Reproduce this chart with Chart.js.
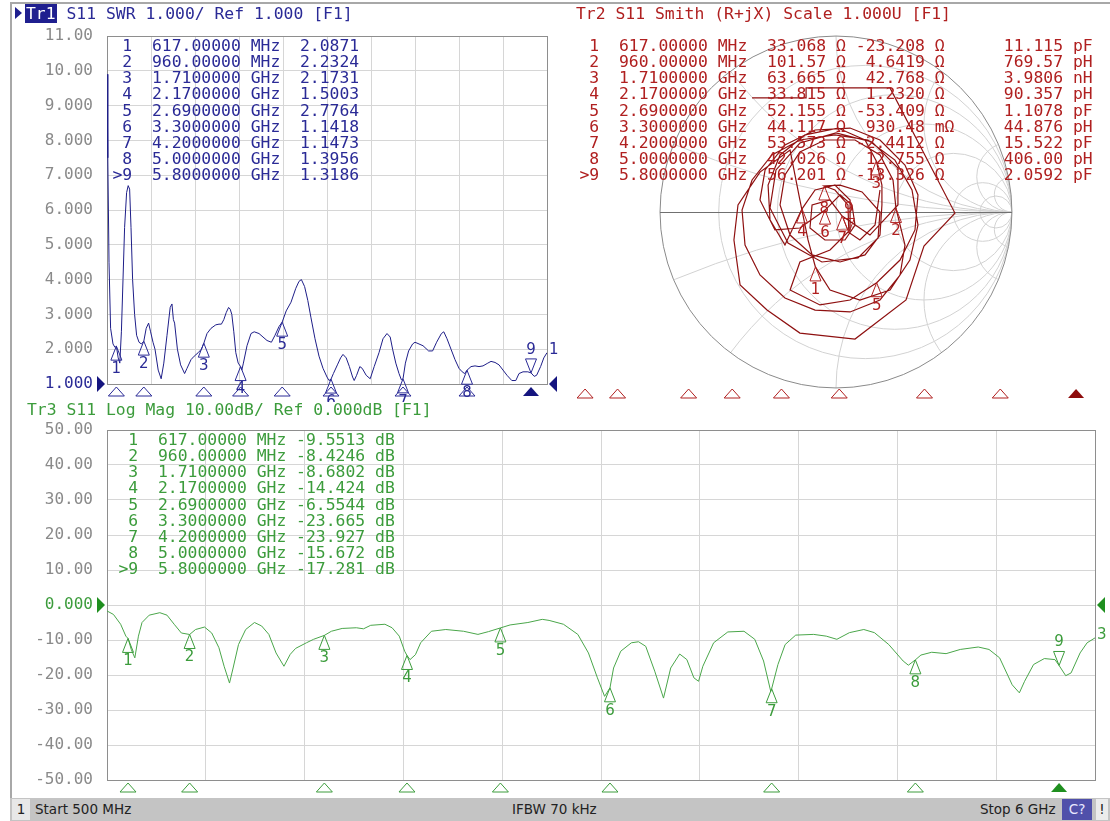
<!DOCTYPE html>
<html>
<head>
<meta charset="utf-8">
<script src="https://cdn.jsdelivr.net/npm/chart.js@4.4.1/dist/chart.umd.min.js"></script>
<style>
  body { margin: 0; width: 1110px; height: 821px; background: #fff; position: relative; overflow: hidden; }
  canvas { position: absolute; }
  .mono { position: absolute; white-space: pre; font-family: "DejaVu Sans Mono", monospace; font-size: 16.4px; }
  .hdr { line-height: 18px; }
  .tbl { line-height: 16.15px; }
  .edge { position: absolute; background: #a8a8a8; }
  #status { position: absolute; left: 10px; top: 798px; width: 1100px; height: 23px; background: #c4c4c4;
            font-family: "DejaVu Sans", sans-serif; font-size: 13.5px; color: #222; line-height: 23px; }
  #status span { position: absolute; top: 0; }
  .box { text-align: center; top: 1px !important; height: 21px; line-height: 21px; }
</style>
</head>
<body>
<div class="edge" style="left:10px;top:2px;width:1100px;height:2px"></div>
<div class="edge" style="left:10px;top:2px;width:2px;height:796px"></div>

<canvas id="swr" width="560" height="380" style="left:10px;top:22px"></canvas>
<canvas id="smith" width="550" height="372" style="left:560px;top:30px"></canvas>
<canvas id="logmag" width="1100" height="380" style="left:10px;top:418px"></canvas>

<div class="mono hdr" style="left:15px;top:5px;color:#2a2a96"><span style="display:inline-block;width:0;height:0;border-top:6px solid transparent;border-bottom:6px solid transparent;border-left:7px solid #1f1f8f;margin-right:3px"></span><span style="background:#1f1f8f;color:#fff;padding:0 1px">Tr1</span> S11 SWR 1.000/ Ref 1.000 [F1]</div>
<div class="mono hdr" style="left:576px;top:5px;color:#b02020">Tr2 S11 Smith (R+jX) Scale 1.000U [F1]</div>
<div class="mono hdr" style="left:27px;top:401px;color:#3c9c3c">Tr3 S11 Log Mag 10.00dB/ Ref 0.000dB [F1]</div>

<div id="swrTable" class="mono tbl" style="left:112.5px;top:38px;color:#2a2a96"></div>
<div id="smithTable" class="mono tbl" style="left:579.5px;top:38px;color:#b02020"></div>
<div id="logTable" class="mono tbl" style="left:118.5px;top:432px;color:#3c9c3c"></div>

<div id="status">
  <span class="box" style="left:2px;width:18px;background:#e8e8e8">1</span>
  <span style="left:25px">Start 500 MHz</span>
  <span style="left:502px">IFBW 70 kHz</span>
  <span style="left:970px">Stop 6 GHz</span>
  <span class="box" style="left:1052px;width:30px;background:#5050aa;color:#e8e8ff">C?</span>
  <span class="box" style="left:1086px;width:12px;background:#ececec">!</span>
</div>

<script>
// markers (shared by all three traces)
const markerFreq = [617, 960, 1710, 2170, 2690, 3300, 4200, 5000, 5800];
const swrMarker = [2.0871, 2.2324, 2.1731, 1.5003, 2.7764, 1.1418, 1.1473, 1.3956, 1.3186];
const dbMarker = [-9.5513, -8.4246, -8.6802, -14.424, -6.5544, -23.665, -23.927, -15.672, -17.281];
const smithR = [33.068, 101.57, 63.665, 33.815, 52.155, 44.117, 53.573, 42.026, 56.201];
const smithX = [-23.208, 4.6419, 42.768, 1.2320, -53.409, 0.93048, -2.4412, 12.755, -13.326];
const smithLC = ['11.115 pF', '769.57 pH', '3.9806 nH', '90.357 pH', '1.1078 pF', '44.876 pH', '15.522 pF', '406.00 pH', '2.0592 pF'];

// Tr1 SWR trace
const swrFreq = [500, 510, 525, 545, 575, 600, 617, 640, 660, 680, 700, 720, 745, 765, 783, 800, 820, 845, 870, 900,
  930, 960, 990, 1020, 1045, 1075, 1100, 1140, 1177, 1210, 1250, 1290, 1312, 1330, 1345, 1380, 1420, 1470, 1500, 1550,
  1590, 1640, 1680, 1710, 1750, 1800, 1860, 1900, 1930, 1960, 1990, 2020, 2040, 2060, 2085, 2110, 2140, 2170, 2185, 2205,
  2250, 2300, 2340, 2400, 2450, 2500, 2555, 2600, 2650, 2690, 2740, 2800, 2860, 2900, 2930, 2970, 3010, 3050, 3100, 3150,
  3200, 3250, 3275, 3300, 3330, 3380, 3420, 3450, 3490, 3530, 3570, 3590, 3620, 3660, 3690, 3740, 3790, 3840, 3900, 3950,
  4000, 4040, 4070, 4110, 4150, 4180, 4200, 4230, 4270, 4320, 4350, 4400, 4450, 4520, 4570, 4620, 4680, 4710, 4750, 4800,
  4850, 4900, 4940, 4970, 5000, 5050, 5100, 5150, 5200, 5260, 5300, 5350, 5400, 5450, 5500, 5560, 5610, 5650, 5700, 5760,
  5800, 5840, 5870, 5920, 5960, 6000];
const swrVal = [9.9, 7.5, 4.5, 2.6, 2.15, 2.05, 2.087, 1.75, 1.6, 2.5, 4.0, 5.5, 6.5, 6.7, 6.6, 5.5, 4.0, 3.0, 2.4, 2.2,
  2.15, 2.23, 2.6, 2.75, 2.5, 2.2, 2.0, 1.4, 1.15, 1.6, 2.4, 3.2, 3.3, 2.85, 2.75, 2.0, 1.55, 1.3, 1.45, 1.7,
  1.8, 1.9, 2.0, 2.17, 2.45, 2.6, 2.7, 2.72, 2.72, 2.85, 3.05, 3.2, 3.15, 3.0, 2.5, 1.9, 1.6, 1.5, 1.4, 1.6,
  2.1, 2.45, 2.5, 2.45, 2.35, 2.25, 2.2, 2.4, 2.65, 2.78, 3.1, 3.35, 3.75, 3.95, 4.0, 3.8, 3.4, 2.9, 2.3, 1.8,
  1.45, 1.2, 1.1, 1.14, 1.3, 1.55, 1.75, 1.85, 1.75, 1.5, 1.2, 1.1, 1.25, 1.5, 1.45, 1.25, 1.15, 1.5, 1.9, 2.3,
  2.45, 2.35, 2.0, 1.6, 1.3, 1.12, 1.147, 1.6, 1.95, 2.15, 2.2, 2.15, 2.1, 1.95, 1.95, 2.2, 2.45, 2.5, 2.3, 2.0,
  1.7, 1.45, 1.35, 1.3, 1.396, 1.5, 1.52, 1.5, 1.52, 1.6, 1.65, 1.62, 1.55, 1.4, 1.25, 1.1, 1.1, 1.3, 1.35, 1.35,
  1.32, 1.22, 1.25, 1.5, 1.75, 1.9];

// Tr3 log magnitude trace (dB)
const dbFreq = [500, 536, 576, 605, 617, 635, 655, 675, 695, 735, 794, 834, 874, 914, 960, 993, 1043, 1083, 1123, 1152,
  1182, 1202, 1232, 1272, 1321, 1361, 1401, 1441, 1485, 1520, 1550, 1610, 1650, 1710, 1749, 1809, 1888, 1928, 1968, 2047,
  2087, 2127, 2157, 2170, 2187, 2217, 2246, 2306, 2386, 2485, 2565, 2624, 2690, 2744, 2843, 2923, 2961, 3041, 3121, 3180,
  3230, 3270, 3300, 3320, 3360, 3419, 3459, 3499, 3549, 3598, 3638, 3688, 3728, 3767, 3793, 3817, 3877, 3956, 4046, 4106,
  4155, 4195, 4200, 4235, 4275, 4334, 4434, 4504, 4563, 4633, 4713, 4772, 4852, 4932, 4961, 5000, 5031, 5091, 5171, 5250,
  5350, 5410, 5469, 5539, 5579, 5608, 5658, 5718, 5777, 5800, 5837, 5867, 5917, 5956, 6000];
const dbVal = [-1.7, -2.7, -5.5, -8.9, -9.55, -12.7, -15.1, -8.9, -5.0, -2.9, -2.2, -2.9, -5.5, -8.0, -8.42, -7.0, -6.3, -8.0, -12.2, -17.5,
  -22.3, -18.0, -11.3, -7.0, -5.0, -6.0, -8.4, -13.7, -17.5, -14.1, -12.4, -10.8, -9.8, -8.68, -7.5, -6.7, -6.5, -6.8, -5.8, -5.5,
  -6.5, -8.9, -13.2, -14.42, -15.6, -14.2, -10.8, -7.5, -7.0, -7.5, -8.4, -7.6, -6.55, -5.7, -5.0, -4.1, -4.4, -5.5, -8.4, -13.7,
  -20.8, -26.1, -23.67, -18.0, -13.2, -10.8, -10.5, -11.8, -18.9, -26.6, -18.0, -14.0, -15.6, -20.8, -21.8, -17.5, -10.8, -7.7, -7.5, -9.8,
  -16.0, -24.7, -23.93, -17.0, -11.3, -8.6, -8.4, -8.9, -9.8, -7.9, -7.0, -7.9, -11.3, -16.0, -17.2, -15.67, -14.3, -13.5, -13.9, -12.7,
  -12.0, -12.7, -15.1, -22.8, -25.1, -21.8, -17.0, -15.3, -15.6, -17.28, -20.2, -19.4, -13.7, -10.8, -9.4];

// Tr2 Smith trace, reflection coefficient (real, imag)
const smithRe = [-0.477, -0.170, -0.170, 0.307, 0.676, 0.500, 0.398, 0.108, -0.205, -0.392,
  -0.545, -0.580, -0.557, -0.432, -0.261, -0.205, -0.159, -0.117, -0.034, 0.136,
  0.307, 0.420, 0.466, 0.432, 0.335, 0.182, -0.006, -0.205, -0.364, -0.477,
  -0.534, -0.517, -0.432, -0.290, -0.119, 0.080, 0.250, 0.364, 0.392, 0.341,
  0.324, 0.250, 0.108, -0.063, -0.205, -0.290, -0.318, -0.261, -0.136, 0.023,
  0.165, 0.250, 0.261, 0.261, 0.229, 0.165, 0.011, -0.176, -0.318, -0.386,
  -0.375, -0.290, -0.193, -0.119, -0.006, 0.080, 0.080, -0.034, -0.205, -0.261,
  -0.091, 0.080, 0.231, 0.364, 0.449, 0.466, 0.392, 0.250, 0.080, -0.119,
  -0.290, -0.403, -0.432, -0.347, -0.205, -0.062, 0.023, 0.091, 0.108, 0.051,
  -0.063, -0.148, -0.136, -0.034, 0.035, 0.193, 0.352, 0.352, 0.205, 0.000,
  -0.205, -0.341, -0.375, -0.273, -0.080, 0.125, 0.239, 0.250, 0.148, 0.023,
  -0.066, -0.006, 0.068, 0.073, 0.136, 0.222, 0.250];
const smithIm = [0.648, 0.648, 0.705, 0.705, -0.006, -0.193, -0.500, -0.722, -0.688, -0.557,
  -0.415, -0.159, 0.040, 0.227, 0.352, 0.068, -0.159, -0.312, -0.443, -0.500,
  -0.443, -0.273, -0.074, 0.125, 0.295, 0.409, 0.438, 0.409, 0.324, 0.182,
  0.011, -0.188, -0.358, -0.489, -0.557, -0.568, -0.500, -0.358, -0.188, 0.020,
  0.182, 0.324, 0.409, 0.409, 0.341, 0.210, 0.040, -0.131, -0.244, -0.284,
  -0.244, -0.131, 0.040, 0.153, 0.290, 0.409, 0.477, 0.438, 0.324, 0.153,
  -0.045, -0.188, 0.018, 0.125, 0.153, 0.068, -0.102, -0.216, -0.284, -0.443,
  -0.528, -0.500, -0.402, -0.273, -0.102, 0.097, 0.267, 0.409, 0.477, 0.466,
  0.381, 0.239, 0.068, -0.102, -0.091, 0.011, 0.097, 0.040, -0.074, -0.159,
  -0.159, -0.091, 0.040, 0.068, -0.023, -0.131, 0.040, 0.250, 0.398, 0.449,
  0.392, 0.239, 0.023, -0.176, -0.284, -0.261, -0.148, 0.000, 0.114, 0.153,
  0.148, 0.125, 0.040, -0.116, -0.159, -0.074, 0.125];

const NAVY = '#2a2a96', NAVY_TR = '#1e1e88';
const RED = '#b02020', RED_TR = '#8e1010', RED_DARK = '#8e0c0c';
const GREEN = '#3c9c3c', GREEN_TR = '#4aa64a', GREEN_DARK = '#1f8f1f';
const GRID = '#d6d6d6', FRAME = '#8e8e8e', TICK = '#8a8a8a';
const MONO = '"DejaVu Sans Mono", monospace';

// ---- marker tables ----
const freqText = f => f < 1000 ? f.toFixed(5) + ' MHz' : (f / 1000).toFixed(7) + ' GHz';
const num = i => (i === 8 ? '>9' : ' ' + (i + 1));
document.getElementById('swrTable').textContent = markerFreq.map((f, i) =>
  `${num(i)}  ${freqText(f)}  ${swrMarker[i].toFixed(4)}`).join('\n');
document.getElementById('logTable').textContent = markerFreq.map((f, i) =>
  `${num(i)}  ${freqText(f)} ${dbMarker[i].toPrecision(5).padStart(7)} dB`).join('\n');
document.getElementById('smithTable').textContent = markerFreq.map((f, i) => {
  const x = smithX[i];
  const xs = Math.abs(x) < 1 ? (x * 1000).toPrecision(5).padStart(7) + ' mΩ' : x.toPrecision(5).padStart(7) + ' Ω ';
  return `${num(i)}  ${freqText(f)}  ${smithR[i].toPrecision(5).padStart(6)} Ω ${xs}     ${smithLC[i]}`;
}).join('\n');

// ---- drawing helpers ----
function drawMarker(ctx, x, y, label, active, color) {
  const w = 5.5, h = 14, d = active ? -1 : 1;
  ctx.save();
  ctx.strokeStyle = color; ctx.fillStyle = color; ctx.lineWidth = 1;
  ctx.beginPath();
  ctx.moveTo(x, y); ctx.lineTo(x - w, y + d * h); ctx.lineTo(x + w, y + d * h); ctx.closePath();
  ctx.stroke();
  ctx.font = '15px "DejaVu Sans", sans-serif';
  ctx.textAlign = 'center'; ctx.textBaseline = 'middle';
  ctx.fillText(label, x, y + d * (h + 9));
  ctx.restore();
}
function drawRow(ctx, xs, y, color, fillColor, activeIdx) {
  ctx.save();
  ctx.lineWidth = 1;
  xs.forEach((x, i) => {
    ctx.beginPath();
    ctx.moveTo(x, y); ctx.lineTo(x - 8, y + 9); ctx.lineTo(x + 8, y + 9); ctx.closePath();
    if (i === activeIdx) { ctx.fillStyle = fillColor; ctx.fill(); }
    else { ctx.strokeStyle = color; ctx.stroke(); }
  });
  ctx.restore();
}
function refArrows(ctx, a, y, color) {
  ctx.save();
  ctx.fillStyle = color;
  ctx.beginPath(); ctx.moveTo(a.left - 2, y); ctx.lineTo(a.left - 10, y - 8); ctx.lineTo(a.left - 10, y + 8); ctx.fill();
  ctx.beginPath(); ctx.moveTo(a.right + 2, y); ctx.lineTo(a.right + 10, y - 8); ctx.lineTo(a.right + 10, y + 8); ctx.fill();
  ctx.restore();
}
function frame(c) {
  const a = c.chartArea, ctx = c.ctx;
  ctx.save();
  ctx.strokeStyle = FRAME; ctx.lineWidth = 1;
  ctx.strokeRect(Math.round(a.left) + 0.5, Math.round(a.top) + 0.5, Math.round(a.right - a.left), Math.round(a.bottom - a.top));
  ctx.restore();
}
function endLabel(ctx, a, y, text, color) {
  ctx.save();
  ctx.fillStyle = color; ctx.font = '15px "DejaVu Sans", sans-serif';
  ctx.textAlign = 'left'; ctx.textBaseline = 'middle';
  ctx.fillText(text, a.right + 2, y - 3);
  ctx.restore();
}

function rectScales(min, max, step, refVal, refColor, yWidth) {
  return {
    x: { type: 'linear', min: 500, max: 6000, ticks: { stepSize: 550, display: false },
         grid: { color: GRID, drawTicks: false }, border: { display: false },
         afterFit: s => { s.height = 0; s.paddingLeft = 0; s.paddingRight = 0; } },
    y: { min: min, max: max,
         ticks: { stepSize: step, padding: 14, font: { family: MONO, size: 16 },
                  color: ctx => ctx.tick && ctx.tick.value === refVal ? refColor : TICK,
                  callback: v => v.toPrecision(4) },
         grid: { color: GRID, drawTicks: false }, border: { display: false },
         afterFit: s => { s.width = yWidth; s.paddingTop = 0; s.paddingBottom = 0; } }
  };
}
const common = { responsive: false, animation: false, events: [],
                 plugins: { legend: { display: false }, tooltip: { enabled: false } } };

// ---- Tr1 SWR ----
new Chart(document.getElementById('swr'), {
  type: 'line',
  data: { datasets: [{ data: swrFreq.map((f, i) => ({ x: f, y: swrVal[i] })),
    borderColor: NAVY_TR, borderWidth: 1, pointRadius: 0, tension: 0 }] },
  options: { ...common, layout: { padding: { top: 14, right: 23, bottom: 18, left: 0 } },
             scales: rectScales(1, 11, 1, 1, NAVY, 97) },
  plugins: [{
    id: 'swrDeco',
    beforeDatasetsDraw: c => frame(c),
    afterDatasetsDraw(c) {
      const { ctx, chartArea: a, scales: { x, y } } = c;
      markerFreq.forEach((f, i) => drawMarker(ctx, x.getPixelForValue(f), y.getPixelForValue(swrMarker[i]), String(i + 1), i === 8, NAVY));
      drawRow(ctx, markerFreq.map(f => x.getPixelForValue(f)), a.bottom + 3, NAVY, '#15157f', 8);
      refArrows(ctx, a, y.getPixelForValue(1), '#15157f');
      endLabel(ctx, a, y.getPixelForValue(swrVal[swrVal.length - 1]), '1', NAVY);
    }
  }]
});

// ---- Tr2 Smith ----
function gamma(R, X) {
  const r = R / 50, x = X / 50, d = (r + 1) * (r + 1) + x * x;
  return { x: (r * r + x * x - 1) / d, y: 2 * x / d };
}
new Chart(document.getElementById('smith'), {
  type: 'scatter',
  data: { datasets: [{ data: smithRe.map((re, i) => ({ x: re, y: smithIm[i] })), showLine: true,
    borderColor: RED_TR, borderWidth: 1.2, pointRadius: 0, tension: 0, clip: false }] },
  options: { ...common, layout: { padding: { top: 6, right: 15, bottom: 14, left: 14 } },
    scales: {
      x: { type: 'linear', min: -1.489, max: 1.472, display: false },
      y: { type: 'linear', min: -1, max: 1, display: false },
      xf: { type: 'linear', axis: 'x', position: 'bottom', min: 500, max: 6000, display: false }
    } },
  plugins: [{
    id: 'smithGrid',
    beforeDatasetsDraw(c) {
      const { ctx, scales: { x, y } } = c;
      const k = x.getPixelForValue(1) - x.getPixelForValue(0);
      const cx = x.getPixelForValue(0), cy = y.getPixelForValue(0);
      ctx.save();
      ctx.beginPath(); ctx.arc(cx, cy, k, 0, 2 * Math.PI); ctx.clip();
      ctx.strokeStyle = '#d2d2d2'; ctx.lineWidth = 1;
      [0.2, 0.5, 1, 2, 5, 10].forEach(r => {
        ctx.beginPath(); ctx.arc(x.getPixelForValue(r / (1 + r)), cy, k / (1 + r), 0, 2 * Math.PI); ctx.stroke();
      });
      [0.2, 0.5, 1, 2, 5, 10].forEach(xv => {
        [1, -1].forEach(s => {
          ctx.beginPath(); ctx.arc(x.getPixelForValue(1), y.getPixelForValue(s / xv), k / xv, 0, 2 * Math.PI); ctx.stroke();
        });
      });
      ctx.restore();
      ctx.save();
      ctx.strokeStyle = '#8a8a8a'; ctx.lineWidth = 1;
      ctx.beginPath(); ctx.arc(cx, cy, k, 0, 2 * Math.PI); ctx.stroke();
      ctx.strokeStyle = '#707070';
      ctx.beginPath(); ctx.moveTo(x.getPixelForValue(-1), Math.round(cy) + 0.5); ctx.lineTo(x.getPixelForValue(1), Math.round(cy) + 0.5); ctx.stroke();
      ctx.restore();
    },
    afterDatasetsDraw(c) {
      const { ctx, scales: { x, y, xf } } = c;
      markerFreq.forEach((f, i) => {
        const g = gamma(smithR[i], smithX[i]);
        drawMarker(ctx, x.getPixelForValue(g.x), y.getPixelForValue(g.y), String(i + 1), i === 8, RED);
      });
      drawRow(ctx, markerFreq.map(f => xf.getPixelForValue(f)), y.getPixelForValue(-1) + 1, RED, RED_DARK, 8);
    }
  }]
});

// ---- Tr3 Log Mag ----
new Chart(document.getElementById('logmag'), {
  type: 'line',
  data: { datasets: [{ data: dbFreq.map((f, i) => ({ x: f, y: dbVal[i] })),
    borderColor: GREEN_TR, borderWidth: 1, pointRadius: 0, tension: 0 }] },
  options: { ...common, layout: { padding: { top: 12, right: 15, bottom: 18, left: 0 } },
             scales: rectScales(-50, 50, 10, 0, GREEN, 97) },
  plugins: [{
    id: 'logDeco',
    beforeDatasetsDraw: c => frame(c),
    afterDatasetsDraw(c) {
      const { ctx, chartArea: a, scales: { x, y } } = c;
      markerFreq.forEach((f, i) => drawMarker(ctx, x.getPixelForValue(f), y.getPixelForValue(dbMarker[i]), String(i + 1), i === 8, GREEN));
      drawRow(ctx, markerFreq.map(f => x.getPixelForValue(f)), a.bottom + 3, GREEN, GREEN_DARK, 8);
      refArrows(ctx, a, y.getPixelForValue(0), GREEN_DARK);
      endLabel(ctx, a, y.getPixelForValue(dbVal[dbVal.length - 1]), '3', GREEN);
    }
  }]
});
</script>
</body>
</html>
